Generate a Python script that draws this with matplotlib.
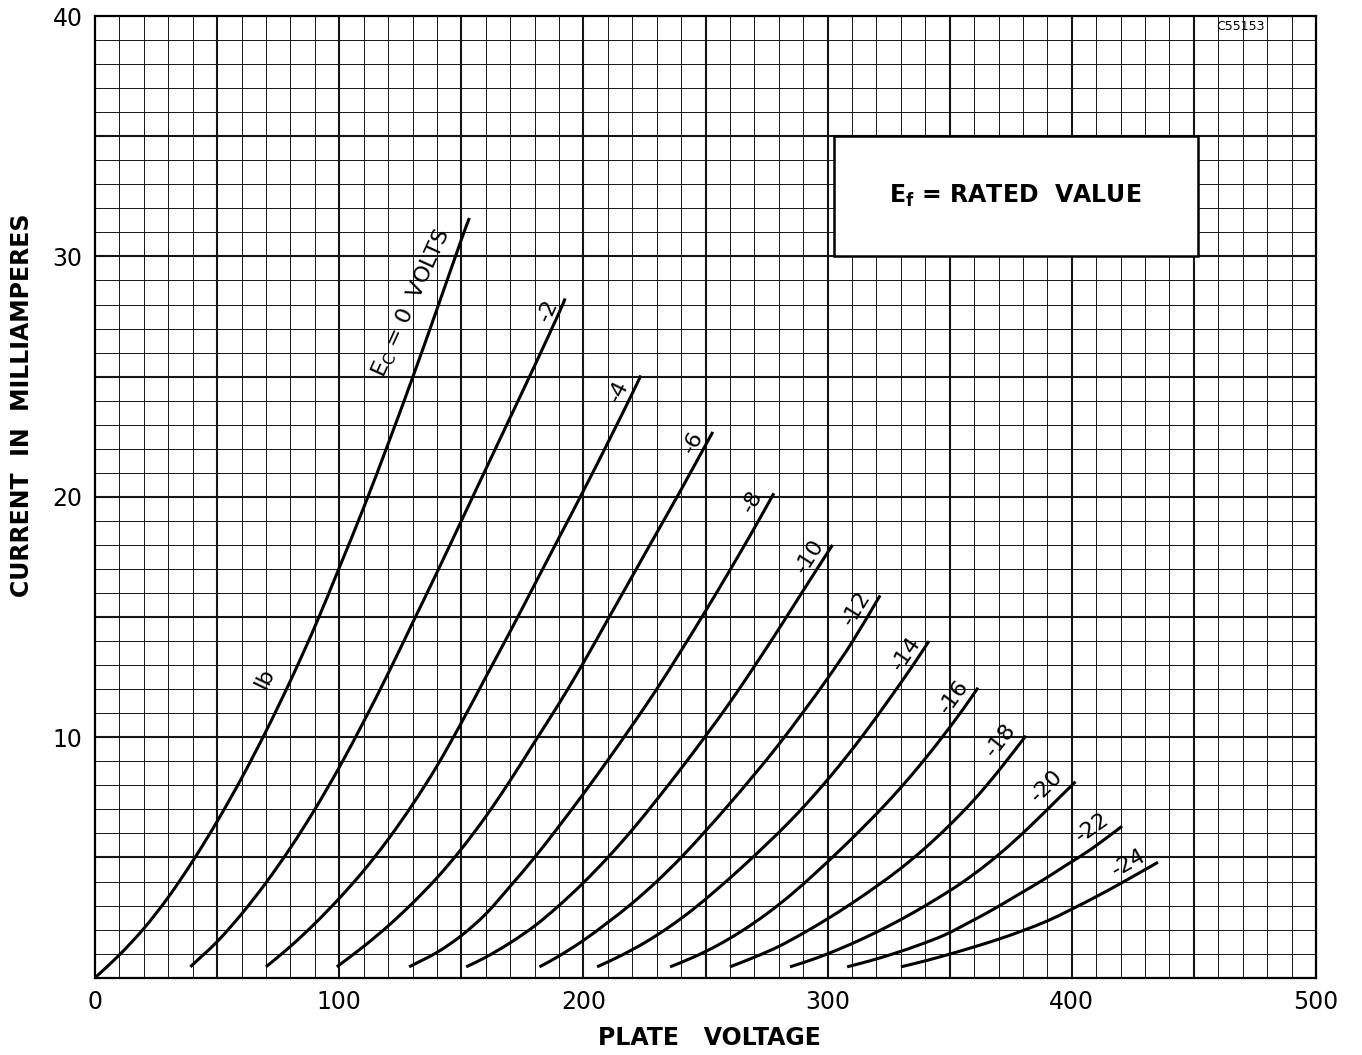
import numpy as np
import matplotlib
matplotlib.use("Agg")
import matplotlib.pyplot as plt
from matplotlib.patches import Rectangle, PathPatch
from matplotlib.path import Path

# ---------------- data (plate voltage V, plate current mA) ----------------
grid_volts = ["0", "-2", "-4", "-6", "-8", "-10", "-12", "-14", "-16", "-18", "-20", "-22", "-24"]

v_0 = [0, 10, 20, 30, 40, 50, 60, 70, 80, 90, 100, 110, 120, 130, 140, 150, 153.3]
i_0 = [0, 0.95, 2.05, 3.35, 4.85, 6.5, 8.3, 10.25, 12.35, 14.6, 17.05, 19.55, 22.2, 24.95, 27.8, 30.7, 31.6]

v_2 = [39, 50, 60, 70, 80, 90, 100, 110, 120, 130, 140, 150, 160, 170, 180, 190, 192.5]
i_2 = [0.45, 1.5, 2.65, 3.95, 5.4, 7.0, 8.75, 10.65, 12.65, 14.75, 16.85, 19.0, 21.15, 23.3, 25.45, 27.65, 28.25]

v_4 = [70, 80, 90, 100, 110, 120, 130, 140, 150, 160, 170, 180, 190, 200, 210, 220, 223.5]
i_4 = [0.45, 1.3, 2.25, 3.3, 4.45, 5.75, 7.2, 8.8, 10.6, 12.5, 14.4, 16.35, 18.3, 20.25, 22.25, 24.3, 25.05]

v_6 = [99, 110, 120, 130, 140, 150, 160, 170, 180, 190, 200, 210, 220, 230, 240, 250, 253]
i_6 = [0.45, 1.3, 2.15, 3.1, 4.15, 5.35, 6.7, 8.2, 9.8, 11.4, 13.1, 14.9, 16.7, 18.5, 20.3, 22.15, 22.7]

v_8 = [128.6, 140, 150, 160, 170, 180, 190, 200, 210, 220, 230, 240, 250, 260, 270, 278]
i_8 = [0.45, 1.05, 1.75, 2.65, 3.8, 5.0, 6.3, 7.65, 9.05, 10.5, 12.0, 13.6, 15.25, 16.95, 18.7, 20.15]

v_10 = [152, 160, 170, 180, 190, 200, 210, 220, 230, 240, 250, 260, 270, 280, 290, 302]
i_10 = [0.45, 0.85, 1.45, 2.15, 3.0, 3.95, 5.0, 6.15, 7.4, 8.7, 10.05, 11.45, 12.95, 14.5, 16.1, 18.0]

v_12 = [182, 190, 200, 210, 220, 230, 240, 250, 260, 270, 280, 290, 300, 310, 321.5]
i_12 = [0.45, 0.9, 1.55, 2.3, 3.1, 4.0, 5.0, 6.1, 7.25, 8.45, 9.7, 11.05, 12.45, 13.95, 15.9]

v_14 = [205.6, 215, 225, 235, 245, 255, 265, 275, 285, 295, 305, 315, 325, 335, 341.5]
i_14 = [0.45, 0.9, 1.45, 2.1, 2.85, 3.7, 4.6, 5.55, 6.55, 7.65, 8.85, 10.15, 11.55, 13.0, 14.0]

v_16 = [235.5, 245, 255, 265, 275, 285, 295, 305, 315, 325, 335, 345, 355, 361.6]
i_16 = [0.45, 0.85, 1.35, 1.95, 2.65, 3.45, 4.35, 5.3, 6.3, 7.35, 8.5, 9.75, 11.1, 12.06]

v_18 = [260, 270, 280, 290, 300, 310, 320, 330, 340, 350, 360, 370, 381.2]
i_18 = [0.45, 0.85, 1.3, 1.85, 2.45, 3.1, 3.8, 4.55, 5.4, 6.35, 7.4, 8.6, 10.06]

v_20 = [284.6, 295, 305, 315, 325, 335, 345, 355, 365, 375, 385, 395, 401.5]
i_20 = [0.45, 0.8, 1.2, 1.65, 2.15, 2.7, 3.3, 3.95, 4.7, 5.55, 6.5, 7.5, 8.15]

v_22 = [308, 318, 328, 338, 348, 358, 368, 378, 388, 398, 408, 420.6]
i_22 = [0.45, 0.72, 1.03, 1.38, 1.78, 2.3, 2.85, 3.45, 4.05, 4.7, 5.35, 6.3]

v_24 = [330, 340, 350, 360, 370, 380, 390, 400, 410, 420, 435.3]
i_24 = [0.45, 0.7, 0.98, 1.28, 1.6, 1.96, 2.36, 2.85, 3.37, 3.92, 4.8]

curves_v = [v_0, v_2, v_4, v_6, v_8, v_10, v_12, v_14, v_16, v_18, v_20, v_22, v_24]
curves_i = [i_0, i_2, i_4, i_6, i_8, i_10, i_12, i_14, i_16, i_18, i_20, i_22, i_24]

# curve label centres (V, mA)
label_v = [131.7, 187, 215.7, 246.4, 270.7, 294.2, 313.3, 333.5, 352.9, 372, 391.1, 409.5, 424.1]
label_i = [27.95, 27.7, 24.3, 22.2, 19.73, 17.45, 15.27, 13.38, 11.58, 9.78, 7.84, 6.1, 4.62]
ib_v, ib_i = 71.3, 12.4

x_ticks = [0, 100, 200, 300, 400, 500]
y_ticks = [10, 20, 30, 40]

# ---------------- figure ----------------
plt.rcParams['font.family'] = ['DejaVu Sans']
fig = plt.figure(figsize=(13.62, 10.55), dpi=100)
ax = fig.add_axes([0.0698, 0.0733, 0.8964, 0.9115])
ax.set_xlim(0, 500)
ax.set_ylim(0, 40)

# grid paper
for v in range(10, 500, 10):
    ax.axvline(v, color='#151515', lw=1.5 if v % 50 == 0 else 0.7, zorder=1)
for c in range(1, 40):
    ax.axhline(c, color='#151515', lw=1.5 if c % 5 == 0 else 0.7, zorder=1)
for s in ax.spines.values():
    s.set_linewidth(1.6)

ax.set_xticks(x_ticks)
ax.set_yticks(y_ticks)
ax.set_xticklabels([str(t) for t in x_ticks], fontsize=17)
ax.set_yticklabels([str(t) for t in y_ticks], fontsize=17)
ax.tick_params(length=0, pad=9)

ax.text(0.503, -0.0627, "PLATE   VOLTAGE", transform=ax.transAxes, fontsize=17,
        fontweight='bold', ha='center', va='center')
ax.text(-0.0598, 0.5955, "CURRENT  IN  MILLIAMPERES", transform=ax.transAxes, fontsize=17,
        fontweight='bold', ha='center', va='center', rotation=90)

# Ef box
ax.add_patch(Rectangle((302.5, 30), 149, 5, facecolor='white', edgecolor='black', lw=1.8, zorder=3))
ax.text(377, 32.5, r"$\mathregular{E_f}$ = RATED  VALUE", fontsize=17, fontweight='bold',
        ha='center', va='center', zorder=4)
ax.text(469, 39.55, "C55153", fontsize=9, ha='center', va='center', zorder=4)


def smooth_path(x, y):
    pts = np.column_stack([x, y]).astype(float)
    P = np.vstack([2 * pts[0] - pts[1], pts, 2 * pts[-1] - pts[-2]])
    verts = [tuple(pts[0])]
    codes = [Path.MOVETO]
    for k in range(1, len(P) - 2):
        p0, p1, p2, p3 = P[k - 1], P[k], P[k + 1], P[k + 2]
        c1 = p1 + (p2 - p0) / 6.0
        c2 = p2 - (p3 - p1) / 6.0
        verts += [tuple(c1), tuple(c2), tuple(p2)]
        codes += [Path.CURVE4] * 3
    return Path(verts, codes)


for vv, ii in zip(curves_v, curves_i):
    ax.add_patch(PathPatch(smooth_path(vv, ii), fill=False, edgecolor='black', lw=2.2,
                           capstyle='butt', zorder=5))

fig.canvas.draw()


def screen_angle(vv, ii, at_v):
    va = max(vv[0], at_v - 6)
    vb = min(vv[-1], at_v + 6)
    p1 = ax.transData.transform((va, np.interp(va, vv, ii)))
    p2 = ax.transData.transform((vb, np.interp(vb, vv, ii)))
    return np.degrees(np.arctan2(p2[1] - p1[1], p2[0] - p1[0]))


def put_label(txt, x, y, ang, off, size):
    r = np.radians(ang)
    ax.annotate(txt, xy=(x, y), xytext=(-np.sin(r) * off, np.cos(r) * off),
                textcoords='offset points', fontsize=size, rotation=ang,
                rotation_mode='anchor', ha='center', va='center', zorder=6)


for k, (vv, ii) in enumerate(zip(curves_v, curves_i)):
    if k == 0:
        put_label(r"$\mathregular{E_C}$ = 0  VOLTS", label_v[k], label_i[k], 65.6, 4.0, 16)
    else:
        ang = screen_angle(vv, ii, min(label_v[k], vv[-1] - 6))
        put_label(grid_volts[k], label_v[k], label_i[k], ang, 3.0, 16)

ang_ib = screen_angle(v_0, i_0, ib_v + 4)
put_label("Ib", ib_v, ib_i, ang_ib, 3.0, 16)

fig.savefig("out.png", dpi=100)
